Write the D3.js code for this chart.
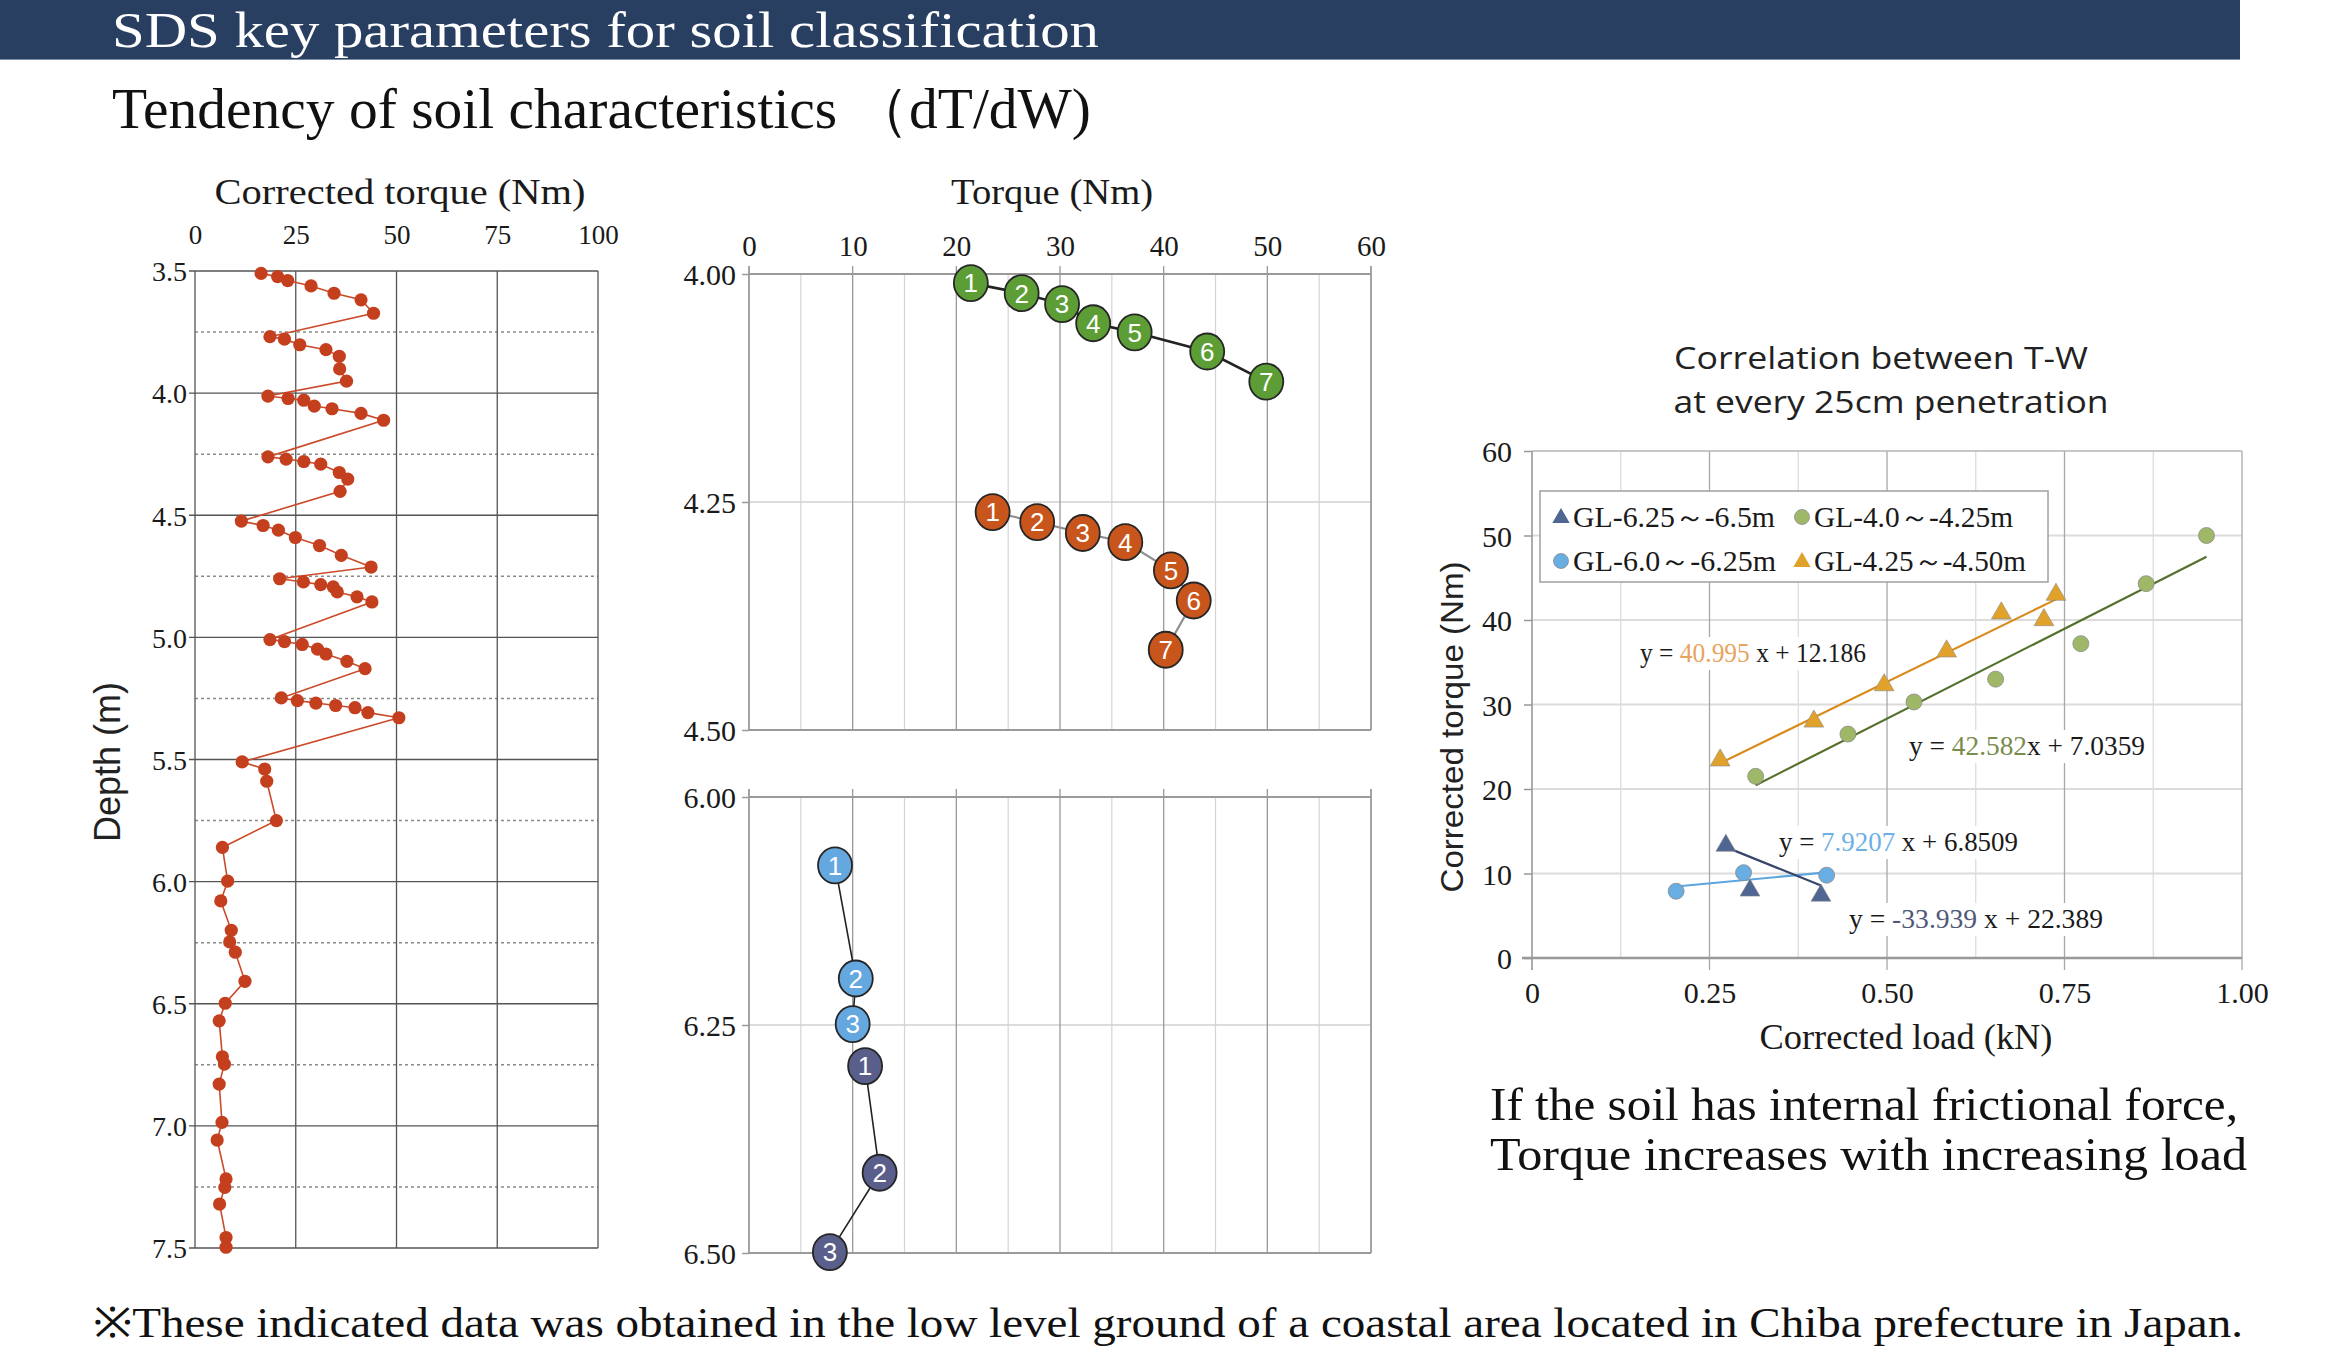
<!DOCTYPE html>
<html><head><meta charset="utf-8">
<script src="https://cdn.jsdelivr.net/npm/d3@7"></script>
<style>body{margin:0;background:#fff;} svg{display:block;}</style>
</head><body><svg id="c" width="2344" height="1368"></svg>
<script>
// ---------------- DATA ----------------
// Left chart: corrected torque (Nm) vs depth (m)
const depthProfileTorque = [16.4,20.5,23.0,28.8,34.5,41.2,44.3, 18.6,22.2,26.0,32.5,35.8,35.9,37.6,
  18.1,23.1,27.0,29.6,34.0,41.2,46.8, 18.1,22.6,27.0,31.2,35.8,37.9,36.0,
  11.5,16.9,20.7,24.9,30.9,36.3,43.7, 21.0,26.9,31.2,34.3,35.3,40.2,43.9,
  18.6,22.2,26.6,30.4,32.5,37.7,42.2, 21.4,25.4,30.0,34.9,39.7,42.9,50.6,
  11.7,17.3,17.8,20.2, 6.8,8.1,6.4,9.0,8.6,10.0,12.4,7.5,6.0,6.8,7.3,6.0,6.7,5.5,7.7,7.4,6.1,7.7,7.7];
const depthProfileDepth = [3.510,3.523,3.539,3.561,3.591,3.618,3.673, 3.769,3.779,3.802,3.822,3.849,3.901,3.951,
  4.012,4.022,4.029,4.053,4.064,4.083,4.111, 4.261,4.270,4.280,4.291,4.325,4.352,4.402,
  4.524,4.542,4.561,4.591,4.624,4.664,4.712, 4.760,4.773,4.784,4.793,4.814,4.834,4.855,
  5.009,5.017,5.029,5.048,5.068,5.098,5.128, 5.248,5.259,5.269,5.279,5.288,5.308,5.329,
  5.510,5.539,5.589,5.750, 5.860,5.998,6.079,6.199,6.247,6.289,6.408,6.498,6.570,6.717,6.747,6.829,6.986,7.058,7.217,7.252,7.320,7.457,7.497];
const leftXTicks = [0,25,50,75,100];
const leftYTicks = [3.5,4.0,4.5,5.0,5.5,6.0,6.5,7.0,7.5];
const leftDotted = [3.75,4.25,4.75,5.25,5.75,6.25,6.75,7.25];

// Middle charts: torque (Nm) at each rotation step vs depth
const greenTorque  = [21.4,26.3,30.2,33.2,37.2,44.2,49.9];
const greenDepth   = [4.010,4.021,4.033,4.054,4.064,4.085,4.118];
const orangeTorque = [23.5,27.8,32.2,36.3,40.7,42.9,40.2];
const orangeDepth  = [4.261,4.272,4.284,4.294,4.325,4.358,4.412];
const lightTorque  = [8.3,10.3,10.0];
const lightDepth   = [6.075,6.199,6.249];
const navyTorque   = [11.2,12.6,7.8];
const navyDepth    = [6.295,6.412,6.499];
const midXTicks = [0,10,20,30,40,50,60];

// Right chart: corrected load (kN) vs corrected torque (Nm)
const loadGreen   = [0.315,0.445,0.538,0.653,0.773,0.865,0.950];
const torqueGreen = [21.5,26.5,30.3,33.0,37.2,44.3,50.0];
const loadOrange   = [0.265,0.397,0.496,0.584,0.661,0.721,0.738];
const torqueOrange = [23.4,28.0,32.3,36.3,40.8,40.0,43.0];
const loadLight   = [0.203,0.298,0.415];
const torqueLight = [7.9,10.1,9.8];
const loadNavy   = [0.273,0.307,0.407];
const torqueNavy = [13.3,8.0,7.4];
const fitSlopes     = [40.995, 42.582, 7.9207, -33.939];
const fitIntercepts = [12.186, 7.0359, 6.8509, 22.389];
const rightXTicks = [0, 0.25, 0.5, 0.75, 1.0];
const rightXTickLabels = ["0","0.25","0.50","0.75","1.00"];
const rightYTicks = [0,10,20,30,40,50,60];
const legendLabels = ["GL-6.25～-6.5m","GL-4.0～-4.25m","GL-6.0～-6.25m","GL-4.25～-4.50m"];

// ---------------- DRAW ----------------
const SERIF = "'Liberation Serif','DejaVu Serif',serif";
const SANS = "'Liberation Sans','DejaVu Sans',sans-serif";
const COND = "'Open Sans','Liberation Sans',sans-serif";
const svg = d3.select('#c');
svg.append('rect').attr('width',2344).attr('height',1368).attr('fill','#fff');

function text(g, s, x, y, o={}) {
  const t = g.append('text').attr('x',x).attr('y',y).text(s)
    .attr('font-family', o.family || SERIF).attr('font-size', o.size || 26)
    .attr('fill', o.fill || '#1a1a1a').attr('text-anchor', o.anchor || 'start');
  if (o.len) t.attr('textLength', o.len).attr('lengthAdjust','spacingAndGlyphs');
  if (o.rotate) t.attr('transform', `rotate(${o.rotate},${x},${y})`);
  return t;
}

// Header
svg.append('rect').attr('x',0).attr('y',0).attr('width',2240).attr('height',60).attr('fill','#283f62');
svg.append('line').attr('x1',0).attr('x2',2240).attr('y1',59.5).attr('y2',59.5).attr('stroke','#7d8ca6').attr('stroke-width',1);
text(svg,'SDS key parameters for soil classification',112,47,{size:51,fill:'#fff',len:987});
text(svg,'Tendency of soil characteristics （dT/dW)',112,128,{size:57,fill:'#111',len:979});

// ---------- Left chart ----------
const xL = d3.scaleLinear([0,100],[195,598]);
const yL = d3.scaleLinear([3.5,7.5],[271,1248]);
const gL = svg.append('g');
gL.selectAll('.dot-h').data(leftDotted).join('line')
  .attr('x1',xL(0)).attr('x2',xL(100)).attr('y1',d=>yL(d)).attr('y2',d=>yL(d))
  .attr('stroke','#8a8a8a').attr('stroke-width',1.5).attr('stroke-dasharray','3,3');
gL.selectAll('.sol-h').data(leftYTicks).join('line')
  .attr('x1',xL(0)-6).attr('x2',xL(100)).attr('y1',d=>yL(d)).attr('y2',d=>yL(d))
  .attr('stroke','#555').attr('stroke-width',1.3);
gL.selectAll('.sol-v').data(leftXTicks).join('line')
  .attr('x1',d=>xL(d)).attr('x2',d=>xL(d)).attr('y1',yL(3.5)).attr('y2',yL(7.5))
  .attr('stroke','#555').attr('stroke-width',1.3);
const axLT = gL.append('g').attr('transform',`translate(0,${yL(3.5)-27})`)
  .call(d3.axisTop(xL).tickValues(leftXTicks).tickSize(0).tickPadding(0).tickFormat(d3.format('d')));
axLT.select('.domain').remove();
axLT.selectAll('text').attr('font-family',SERIF).attr('font-size',27).attr('fill','#1a1a1a');
const axLY = gL.append('g').attr('transform',`translate(${xL(0)-8},0)`)
  .call(d3.axisLeft(yL).tickValues(leftYTicks).tickSize(0).tickPadding(0).tickFormat(d3.format('.1f')));
axLY.select('.domain').remove();
axLY.selectAll('text').attr('font-family',SERIF).attr('font-size',28).attr('fill','#1a1a1a').attr('dy','0.35em');
text(gL,'Corrected torque (Nm)',400,204,{size:36,anchor:'middle',len:371});
text(gL,'Depth (m)',120,762,{family:SANS,size:36,anchor:'middle',len:160,rotate:-90,fill:'#222'});
const leftPts = depthProfileTorque.map((t,i)=>({t, d:depthProfileDepth[i]}));
gL.append('path').datum(leftPts)
  .attr('d', d3.line().x(d=>xL(d.t)).y(d=>yL(d.d)))
  .attr('fill','none').attr('stroke','#cc4a2a').attr('stroke-width',1.6);
gL.selectAll('circle').data(leftPts).join('circle')
  .attr('cx',d=>xL(d.t)).attr('cy',d=>yL(d.d)).attr('r',6.6).attr('fill','#c43f1e');

// ---------- Middle charts ----------
const xM = d3.scaleLinear([0,60],[749,1371]);
const yM1 = d3.scaleLinear([4.0,4.5],[274,730]);
const yM2 = d3.scaleLinear([6.0,6.5],[797,1253]);
const minorX = d3.range(5,60,10);
const majorX = d3.range(10,60,10);
function midFrame(g, y, d0, d1) {
  const dm = (d0+d1)/2;
  g.selectAll('.mn').data(minorX).join('line')
    .attr('x1',d=>xM(d)).attr('x2',d=>xM(d)).attr('y1',y(d0)).attr('y2',y(d1))
    .attr('stroke','#d4d4d4').attr('stroke-width',1.2);
  g.append('line').attr('x1',xM(0)).attr('x2',xM(60)).attr('y1',y(dm)).attr('y2',y(dm))
    .attr('stroke','#d0d0d0').attr('stroke-width',1.6);
  g.selectAll('.mj').data(majorX).join('line')
    .attr('x1',d=>xM(d)).attr('x2',d=>xM(d)).attr('y1',y(d0)-8).attr('y2',y(d1))
    .attr('stroke','#9a9a9a').attr('stroke-width',1.3);
  [d0,d1].forEach(v=>g.append('line').attr('x1',xM(0)).attr('x2',xM(60)).attr('y1',y(v)).attr('y2',y(v))
    .attr('stroke','#9a9a9a').attr('stroke-width',1.8));
  [0,60].forEach(v=>g.append('line').attr('x1',xM(v)).attr('x2',xM(v)).attr('y1',y(d0)-8).attr('y2',y(d1))
    .attr('stroke','#9a9a9a').attr('stroke-width',1.8));
  const ax = g.append('g').attr('transform',`translate(${xM(0)},0)`)
    .call(d3.axisLeft(y).tickValues([d0,dm,d1]).tickSize(7).tickPadding(6).tickFormat(d3.format('.2f')));
  ax.select('.domain').remove();
  ax.selectAll('line').attr('stroke','#9a9a9a').attr('stroke-width',1.5);
  ax.selectAll('text').attr('font-family',SERIF).attr('font-size',30).attr('fill','#1a1a1a').attr('dy','0.35em');
}
const gM1 = svg.append('g'); midFrame(gM1, yM1, 4.0, 4.5);
const gM2 = svg.append('g'); midFrame(gM2, yM2, 6.0, 6.5);
const axMT = gM1.append('g').attr('transform',`translate(0,${yM1(4.0)-18})`)
  .call(d3.axisTop(xM).tickValues(midXTicks).tickSize(0).tickPadding(0).tickFormat(d3.format('d')));
axMT.select('.domain').remove();
axMT.selectAll('text').attr('font-family',SERIF).attr('font-size',29).attr('fill','#1a1a1a');
text(gM1,'Torque (Nm)',1052,204,{size:36,anchor:'middle',len:202});

function markerSeries(g, y, tq, dp, fill, lineColor, lineW) {
  const pts = tq.map((t,i)=>({t, d:dp[i], n:i+1}));
  g.append('path').datum(pts).attr('d', d3.line().x(d=>xM(d.t)).y(d=>y(d.d)))
    .attr('fill','none').attr('stroke',lineColor).attr('stroke-width',lineW);
  const m = g.selectAll('.mk').data(pts).join('g').attr('transform',d=>`translate(${xM(d.t)},${y(d.d)})`);
  m.append('ellipse').attr('rx',17).attr('ry',18).attr('fill',fill).attr('stroke','#262626').attr('stroke-width',1.8);
  m.append('text').text(d=>d.n).attr('text-anchor','middle').attr('dy','0.36em')
    .attr('font-family',SANS).attr('font-size',26).attr('fill','#fff');
}
markerSeries(gM1.append('g'), yM1, greenTorque, greenDepth, '#5c9e35', '#222', 2.6);
markerSeries(gM1.append('g'), yM1, orangeTorque, orangeDepth, '#c8561c', '#8f8f8f', 2.2);
markerSeries(gM2.append('g'), yM2, lightTorque, lightDepth, '#65a7df', '#222', 1.6);
markerSeries(gM2.append('g'), yM2, navyTorque, navyDepth, '#595e8b', '#222', 1.6);

// ---------- Right chart ----------
const xR = d3.scaleLinear([0,1],[1532,2242]);
const yR = d3.scaleLinear([0,60],[958,451]);
const gR = svg.append('g');
text(gR,'Correlation between T-W',1881,369,{family:COND,size:31,anchor:'middle',len:414,fill:'#222'});
text(gR,'at every 25cm penetration',1891,413,{family:COND,size:31,anchor:'middle',len:435,fill:'#222'});
const minorR = [0.125,0.375,0.625,0.875];
gR.selectAll('.vmn').data(minorR).join('line')
  .attr('x1',d=>xR(d)).attr('x2',d=>xR(d)).attr('y1',yR(60)).attr('y2',yR(0))
  .attr('stroke','#dadada').attr('stroke-width',1.2);
gR.selectAll('.hg').data([10,20,30,40,50]).join('line')
  .attr('x1',xR(0)).attr('x2',xR(1)).attr('y1',d=>yR(d)).attr('y2',d=>yR(d))
  .attr('stroke','#dcdcdc').attr('stroke-width',2.2);
gR.selectAll('.vmj').data([0.25,0.5,0.75]).join('line')
  .attr('x1',d=>xR(d)).attr('x2',d=>xR(d)).attr('y1',yR(60)).attr('y2',yR(0)+12)
  .attr('stroke','#a8a8a8').attr('stroke-width',1.3);
gR.append('line').attr('x1',xR(0)).attr('x2',xR(1)).attr('y1',yR(60)).attr('y2',yR(60)).attr('stroke','#b5b5b5').attr('stroke-width',1.5);
gR.append('line').attr('x1',xR(1)).attr('x2',xR(1)).attr('y1',yR(60)).attr('y2',yR(0)+12).attr('stroke','#b5b5b5').attr('stroke-width',1.5);
gR.append('line').attr('x1',xR(0)).attr('x2',xR(0)).attr('y1',yR(60)).attr('y2',yR(0)+12).attr('stroke','#999').attr('stroke-width',1.6);
gR.append('line').attr('x1',xR(0)-10).attr('x2',xR(1)).attr('y1',yR(0)).attr('y2',yR(0)).attr('stroke','#999').attr('stroke-width',2.4);
const axRY = gR.append('g').attr('transform',`translate(${xR(0)},0)`)
  .call(d3.axisLeft(yR).tickValues(rightYTicks).tickSize(8).tickPadding(12).tickFormat(d3.format('d')));
axRY.select('.domain').remove();
axRY.selectAll('line').attr('stroke','#999').attr('stroke-width',1.5);
axRY.selectAll('text').attr('font-family',SERIF).attr('font-size',30).attr('fill','#1a1a1a').attr('dy','0.35em');
const axRX = gR.append('g').attr('transform',`translate(0,${yR(0)+24})`)
  .call(d3.axisBottom(xR).tickValues(rightXTicks).tickSize(0).tickPadding(0).tickFormat((d,i)=>rightXTickLabels[i]));
axRX.select('.domain').remove();
axRX.selectAll('text').attr('font-family',SERIF).attr('font-size',30).attr('fill','#1a1a1a');
text(gR,'Corrected load (kN)',1906,1049,{size:35,anchor:'middle',len:293});
text(gR,'Corrected torque (Nm)',1463,727,{family:SANS,size:32,anchor:'middle',len:331,rotate:-90,fill:'#222'});

const fitColors = ['#d98b1c','#56702c','#5ca6df','#36466a'];
const fitRanges = [d3.extent(loadOrange), d3.extent(loadGreen), d3.extent(loadLight), d3.extent(loadNavy)];
fitSlopes.forEach((s,i)=>{
  const r = fitRanges[i];
  gR.append('line').attr('x1',xR(r[0])).attr('x2',xR(r[1]))
    .attr('y1',yR(s*r[0]+fitIntercepts[i])).attr('y2',yR(s*r[1]+fitIntercepts[i]))
    .attr('stroke',fitColors[i]).attr('stroke-width',2.2);
});
const tri = d3.symbol().type(d3.symbolTriangle).size(170);
function scatter(xs, ys, shape, fill) {
  xs.forEach((x,i)=>{
    if (shape==='c') gR.append('circle').attr('cx',xR(x)).attr('cy',yR(ys[i])).attr('r',8)
      .attr('fill',fill).attr('stroke','#8a8a8a').attr('stroke-width',0.8);
    else gR.append('path').attr('d',tri).attr('transform',`translate(${xR(x)},${yR(ys[i])})`)
      .attr('fill',fill).attr('stroke','#8a8a8a').attr('stroke-width',0.6);
  });
}
scatter(loadGreen, torqueGreen, 'c', '#9fb868');
scatter(loadOrange, torqueOrange, 't', '#e1a22c');
scatter(loadLight, torqueLight, 'c', '#68aee3');
scatter(loadNavy, torqueNavy, 't', '#4f6592');

const eqs = [
  {x:1640, y:662, pre:'y = ', c:fitSlopes[0].toFixed(3), post:' x + '+fitIntercepts[0], col:'#e6a460', len:226},
  {x:1909, y:755, pre:'y = ', c:fitSlopes[1].toFixed(3), post:'x + '+fitIntercepts[1].toFixed(4), col:'#7b8b4e', len:236},
  {x:1779, y:851, pre:'y = ', c:fitSlopes[2].toFixed(4), post:' x + '+fitIntercepts[2].toFixed(4), col:'#6cb0e6', len:239},
  {x:1849, y:928, pre:'y = ', c:fitSlopes[3].toFixed(3), post:' x + '+fitIntercepts[3], col:'#4f5878', len:254}
];
eqs.forEach(e=>{
  gR.append('rect').attr('fill','#fff').attr('x',e.x-4).attr('y',e.y-25).attr('width',e.len+8).attr('height',33);
  const t = gR.append('text').attr('x',e.x).attr('y',e.y).attr('font-family',SERIF).attr('font-size',27).attr('fill','#1a1a1a')
    .attr('textLength',e.len).attr('lengthAdjust','spacingAndGlyphs');
  t.append('tspan').text(e.pre);
  t.append('tspan').text(e.c).attr('fill',e.col);
  t.append('tspan').text(e.post);
});

const lg = gR.append('g');
lg.append('rect').attr('x',1540).attr('y',491).attr('width',508).attr('height',91)
  .attr('fill','#fff').attr('stroke','#a0a0a0').attr('stroke-width',1.5);
const legendItems = [
  {mx:1561, my:517, shape:'t', fill:'#4f6592', tx:1573, len:202},
  {mx:1802, my:517, shape:'c', fill:'#9fb868', tx:1814, len:199},
  {mx:1561, my:561, shape:'c', fill:'#68aee3', tx:1573, len:203},
  {mx:1802, my:561, shape:'t', fill:'#e1a22c', tx:1814, len:212}
];
legendItems.forEach((it,i)=>{
  if (it.shape==='c') lg.append('circle').attr('cx',it.mx).attr('cy',it.my).attr('r',7.5)
    .attr('fill',it.fill).attr('stroke','#8a8a8a').attr('stroke-width',0.8);
  else lg.append('path').attr('d',d3.symbol().type(d3.symbolTriangle).size(130))
    .attr('transform',`translate(${it.mx},${it.my+1})`).attr('fill',it.fill);
  text(lg, legendLabels[i], it.tx, it.my+10, {size:29, len:it.len});
});

text(svg,'If the soil has internal frictional force,',1490,1120,{size:47,len:748,fill:'#111'});
text(svg,'Torque increases with increasing load',1490,1170,{size:47,len:757,fill:'#111'});
text(svg,'※These indicated data was obtained in the low level ground of a coastal area located in Chiba prefecture in Japan.',93,1337,{size:42,len:2150,fill:'#111'});
</script></body></html>
